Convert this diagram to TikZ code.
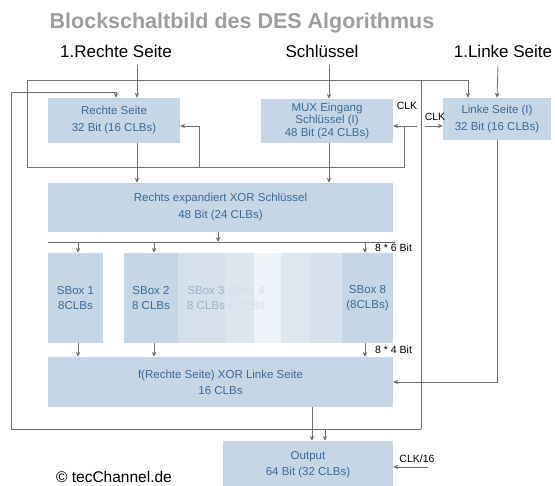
\documentclass[tikz,border=0pt]{standalone}
\usepackage{fontspec}
\setmainfont{Liberation Sans}
\usetikzlibrary{arrows.meta}

\definecolor{boxblue}{RGB}{198,214,229}
\definecolor{boxtext}{RGB}{60,106,152}
\definecolor{wiregray}{RGB}{112,112,112}
\definecolor{titlegray}{RGB}{158,158,158}
\definecolor{fadeA}{RGB}{213,224,235}
\definecolor{fadeB}{RGB}{221,230,239}
\definecolor{fadeC}{RGB}{238,243,248}
\definecolor{fadeD}{RGB}{222,231,240}
\definecolor{fadeE}{RGB}{214,225,236}

\tikzset{
  blk/.style={fill=boxblue, text=boxtext, inner sep=0pt, align=center,
    font=\fontsize{11.5}{17}\selectfont},
  head/.style={anchor=base, inner xsep=0pt, inner ysep=7pt,
    font=\fontsize{17}{20}\selectfont},
  lbl/.style={inner sep=0pt, font=\fontsize{10.5}{12}\selectfont},
  wire/.style={draw=wiregray, line width=0.8pt},
  arr/.style={wire, -{Stealth[length=5pt,width=4.5pt]}},
}

\begin{document}
\begin{tikzpicture}[x=1pt,y=-1pt]
  \useasboundingbox (0,0) rectangle (555,486);

  \node[anchor=base, text=titlegray, font=\fontsize{21.5}{25}\bfseries] (titel) at (242,29) {Blockschaltbild des DES Algorithmus};

  \node[head] (hRechts) at (116,58) {1.Rechte Seite};
  \node[head] (hKey) at (322,58) {Schlüssel};
  \node[head] (hLinks) at (503,58) {1.Linke Seite};

  % register
  \node[blk, minimum width=132, minimum height=45] (rechte) at (114,120.5) {Rechte Seite\\32 Bit (16 CLBs)};
  \node[blk, minimum width=132, minimum height=44, font=\fontsize{11.5}{12.5}\selectfont] (mux) at (327,121) {MUX Eingang\\Schlüssel (I)\\48 Bit (24 CLBs)};
  \node[blk, minimum width=108, minimum height=42] (linke) at (497,119) {Linke Seite (I)\\32 Bit (16 CLBs)};
  \node[blk, minimum width=345, minimum height=49] (expand) at (220.5,207.5) {Rechts expandiert XOR Schlüssel\\48 Bit (24 CLBs)};

  % sboxen
  \fill[fadeA] (178,253) rectangle (225,343);
  \fill[fadeB] (225,253) rectangle (254,343);
  \fill[fadeC] (254,253) rectangle (281,343);
  \fill[fadeD] (281,253) rectangle (310,343);
  \fill[fadeE] (310,253) rectangle (342,343);
  \node[blk, minimum width=55, minimum height=90, font=\fontsize{11.5}{15}\selectfont] (sbox1) at (75.5,298) {SBox 1\\8CLBs};
  \node[blk, minimum width=54, minimum height=90, font=\fontsize{11.5}{15}\selectfont] (sbox2) at (151,298) {SBox 2\\8 CLBs};
  \node[lbl, align=center, text={rgb,255:red,160;green,180;blue,200}, font=\fontsize{11.5}{15}\selectfont] (sbox3) at (206,298) {SBox 3\\8 CLBs};
  \node[lbl, align=center, text={rgb,255:red,214;green,223;blue,233}, font=\fontsize{11.5}{15}\selectfont] (sbox4) at (246,298) {SBox 4\\8 CLBs};
  \node[blk, minimum width=51, minimum height=90, font=\fontsize{11.5}{15}\selectfont] (sbox8) at (367.5,298) {SBox 8\\(8CLBs)};

  \node[blk, minimum width=345, minimum height=50, font=\fontsize{11.5}{16}\selectfont] (fbox) at (220.5,382) {f(Rechte Seite) XOR Linke Seite\\16 CLBs};
  \node[blk, minimum width=170, minimum height=48, font=\fontsize{11.5}{16}\selectfont] (output) at (308,465) {Output\\64 Bit (32 CLBs)};

  \node[lbl] (clkM) at (407,106) {CLK};
  \node[lbl] (clkL) at (435,117) {CLK};
  \node[lbl, anchor=west] (bits6) at (375,248) {8 * 6 Bit};
  \node[lbl, anchor=west] (bits4) at (375,350) {8 * 4 Bit};
  \node[lbl] (clk16) at (417,459) {CLK/16};
  \node[anchor=base, inner sep=0pt, font=\fontsize{15.5}{18}\selectfont] (copy) at (114,483) {© tecChannel.de};

  % junctions
  \coordinate (jM) at (404,126);
  \coordinate (jBR) at (404,167);
  \coordinate (jBL) at (27,167);
  \coordinate (jRS) at (199,167);
  \coordinate (jTL) at (27,80);
  \coordinate (jTR) at (421,80);
  \coordinate (jOB) at (421,429);
  \coordinate (jOL) at (11,429);
  \coordinate (jOut) at (325,429);
  \coordinate (busL) at (48,242);
  \coordinate (busR) at (395,242);

  % eingaenge
  \draw[arr] ([xshift=21pt]hRechts.south) -- ([xshift=23pt]rechte.north);
  \draw[arr] ([xshift=7pt]hKey.south) -- ([xshift=2pt]mux.north);
  \draw[arr] ([xshift=-5pt]hLinks.south) -- (linke.north);

  % rueckfuehrungen
  \draw[arr] (417,126) -- ([yshift=-5pt]mux.east);
  \draw[wire] (jM) -- (jBR) -- (jBL) -- (jTL) -- (jTR);
  \draw[arr] (jTR) -- (468,80) -- ([xshift=-29pt]linke.north);
  \draw[arr] (jRS) -- (199,126) -- ([yshift=-5.5pt]rechte.east);
  \draw[wire] (jTR) -- (jOB);
  \draw[arr] (jOB) -- (jOL) -- (11,92) -- (116,92) -- ([xshift=2pt]rechte.north);
  \draw[arr] (jOut) -- (jOut |- output.north);
  \draw[arr] (425,126) -- ([yshift=-7pt]linke.west);

  % datenpfad
  \draw[arr] ([xshift=23pt]rechte.south) -- ([xshift=-83.5pt]expand.north);
  \draw[arr] ([xshift=2pt]mux.south) -- ([xshift=108.5pt]expand.north);
  \draw[arr] ([xshift=-2.5pt]expand.south) -- (218,242);
  \draw[wire] (busL) -- (busR);
  \draw[arr] ([xshift=2.5pt]sbox1.north |- busL) -- ([xshift=2.5pt]sbox1.north);
  \draw[arr] ([xshift=3pt]sbox2.north |- busL) -- ([xshift=3pt]sbox2.north);
  \draw[arr] ([xshift=-2.5pt]sbox8.north |- busL) -- ([xshift=-2.5pt]sbox8.north);
  \draw[arr] ([xshift=2.5pt]sbox1.south) -- ([xshift=2.5pt]sbox1.south |- fbox.north);
  \draw[arr] ([xshift=3pt]sbox2.south) -- ([xshift=3pt]sbox2.south |- fbox.north);
  \draw[arr] ([xshift=-2.5pt]sbox8.south) -- ([xshift=-2.5pt]sbox8.south |- fbox.north);
  \draw[arr] (linke.south) -- (linke.south |- fbox.east) -- (fbox.east);
  \draw[arr] ([xshift=91.5pt]fbox.south) -- ([xshift=4pt]output.north);
  \draw[arr] (428,467) -- ([yshift=-2pt]output.east);
\end{tikzpicture}
\end{document}
